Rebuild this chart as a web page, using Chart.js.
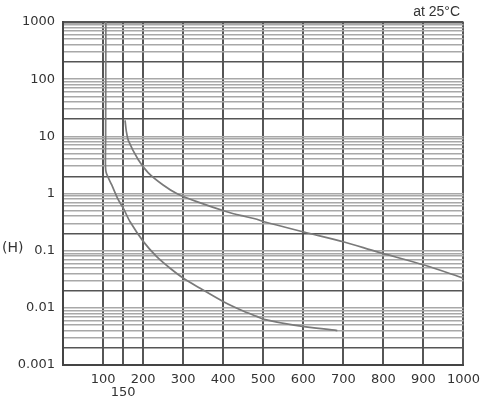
<!DOCTYPE html>
<html>
<head>
<meta charset="utf-8">
<script src="https://cdn.jsdelivr.net/npm/chart.js@4/dist/chart.umd.min.js"></script>
<style>
  html, body { margin: 0; padding: 0; background: #fff; }
  #wrap { width: 488px; height: 400px; }
</style>
</head>
<body>
<div id="wrap"><canvas id="chart" width="488" height="400"></canvas></div>
<script>
const Y_TICKS = [0.001, 0.01, 0.1, 1, 10, 100, 1000];
const Y_TICK_LABELS = ["0.001", "0.01", "0.1", "1", "10", "100", "1000"];
const X_TICKS = [100, 150, 200, 300, 400, 500, 600, 700, 800, 900, 1000];
const X_TICK_LABELS = ["100", "150", "200", "300", "400", "500", "600", "700", "800", "900", "1000"];
const X_LOWERED = "150";

// upper curve
const UPPER_X = [155, 158, 163.3, 188, 213, 250, 284, 334, 409, 452, 484, 502, 602, 702, 785, 902, 1000];
const UPPER_Y = [19, 12.5, 8.4, 3.9, 2.3, 1.41, 1.0, 0.72, 0.48, 0.40, 0.355, 0.32, 0.212, 0.142, 0.095, 0.056, 0.033];

// lower curve
const LOWER_X = [107, 106.5, 106, 108, 121.7, 138.3, 150.8, 167.5, 200.8, 234, 267.5, 300.8, 342.5, 400.8, 450, 484, 502, 577, 685];
const LOWER_Y = [1000, 10, 3.2, 2.3, 1.41, 0.77, 0.55, 0.32, 0.144, 0.0785, 0.0492, 0.0329, 0.022, 0.0128, 0.0088, 0.0071, 0.0063, 0.005, 0.004];

const AXIS_FONT = { family: "'DejaVu Sans', sans-serif", size: 13, lineHeight: 1 };
const TEXT_COLOR = "#333";
const CURVE_COLOR = "#7a7a7a";

function toPoints(xs, ys) {
  return xs.map((x, i) => ({ x, y: ys[i] }));
}

function mantissa(v) {
  return Math.round(v / Math.pow(10, Math.floor(Math.log10(v) + 1e-9)));
}

function isDarkLine(v) {
  return mantissa(v) === 2 || Math.abs(v - 1000) < 1e-6;
}

// gridlines: 1..9 in every decade
const yGridValues = [];
for (let i = 0; i < Y_TICKS.length - 1; i++) {
  for (let m = 1; m <= 9; m++) {
    yGridValues.push(parseFloat((Y_TICKS[i] * m).toPrecision(6)));
  }
}
yGridValues.push(Y_TICKS[Y_TICKS.length - 1]);

const sideText = {
  id: "sideText",
  afterDraw(chart) {
    const ctx = chart.ctx;
    ctx.save();
    ctx.fillStyle = TEXT_COLOR;
    ctx.textBaseline = "middle";
    ctx.font = "14px 'DejaVu Sans', sans-serif";
    ctx.textAlign = "left";
    ctx.fillText("(H)", 2, 248);
    ctx.font = "14px 'Liberation Sans', sans-serif";
    ctx.textAlign = "right";
    ctx.fillText("at 25°C", 460, 12);
    ctx.restore();
  },
};

new Chart(document.getElementById("chart"), {
  type: "line",
  data: {
    datasets: [
      {
        label: "upper",
        data: toPoints(UPPER_X, UPPER_Y),
        borderColor: CURVE_COLOR,
        borderWidth: 1.7,
        pointRadius: 0,
        tension: 0.3,
        fill: false,
      },
      {
        label: "lower",
        data: toPoints(LOWER_X, LOWER_Y),
        borderColor: CURVE_COLOR,
        borderWidth: 1.7,
        pointRadius: 0,
        tension: 0.3,
        fill: false,
      },
    ],
  },
  options: {
    responsive: false,
    animation: false,
    layout: { padding: { top: 22, right: 24, left: 0, bottom: 0 } },
    plugins: {
      legend: { display: false },
      tooltip: { enabled: false },
      title: { display: false },
    },
    scales: {
      x: {
        type: "linear",
        min: 0,
        max: 1000,
        afterFit: (scale) => { scale.height = 35; },
        afterBuildTicks: (scale) => { scale.ticks = X_TICKS.map((v) => ({ value: v })); },
        ticks: {
          autoSkip: false,
          maxRotation: 0,
          padding: 8,
          color: TEXT_COLOR,
          font: AXIS_FONT,
          callback: (value, index) => {
            const label = X_TICK_LABELS[index];
            return label === X_LOWERED ? ["", label] : label;
          },
        },
        grid: {
          drawTicks: false,
          color: "#565656",
          lineWidth: 2,
        },
        border: { display: true, color: "#444", width: 2 },
      },
      y: {
        type: "logarithmic",
        min: 0.001,
        max: 1000,
        afterFit: (scale) => { scale.width = 63; },
        afterBuildTicks: (scale) => { scale.ticks = yGridValues.map((v) => ({ value: v })); },
        ticks: {
          autoSkip: false,
          padding: 8,
          color: TEXT_COLOR,
          font: AXIS_FONT,
          callback: (value) => {
            const i = Y_TICKS.findIndex((t) => Math.abs(t - value) / t < 1e-6);
            return i >= 0 ? Y_TICK_LABELS[i] : "";
          },
        },
        grid: {
          drawTicks: false,
          color: (ctx) => (isDarkLine(ctx.tick.value) ? "#555" : "#a8a8a8"),
          lineWidth: (ctx) => (Math.abs(ctx.tick.value - 1000) < 1e-6 ? 2.5 : isDarkLine(ctx.tick.value) ? 1.4 : 1.5),
        },
        border: { display: true, color: "#444", width: 2 },
      },
    },
  },
  plugins: [sideText],
});
</script>
</body>
</html>
